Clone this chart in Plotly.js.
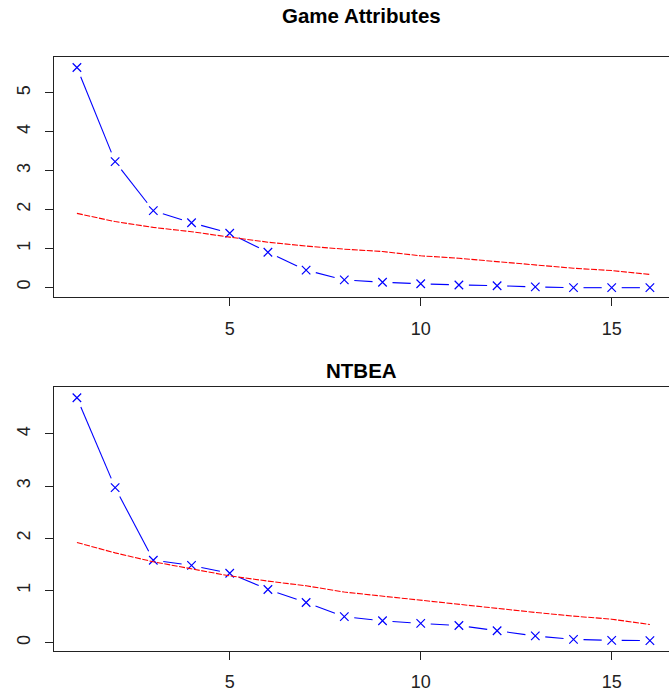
<!DOCTYPE html>
<html>
<head>
<meta charset="utf-8">
<script src="https://cdn.plot.ly/plotly-3.0.1.min.js"></script>
<style>html,body{margin:0;padding:0;background:#fff;}#chart{width:669px;height:693px;}</style>
</head>
<body>
<div id="chart"></div>
<script>
// Factor numbers
var factors = [1,2,3,4,5,6,7,8,9,10,11,12,13,14,15,16];
// Game Attributes: actual eigenvalues (blue) and simulated/random (red)
var gameActual = [5.65,3.23,1.97,1.66,1.39,0.90,0.44,0.19,0.13,0.09,0.06,0.04,0.01,-0.01,-0.01,-0.01];
var gameSim    = [1.90,1.69,1.54,1.43,1.29,1.16,1.06,0.98,0.92,0.81,0.745,0.66,0.56,0.49,0.43,0.33];
// NTBEA
var ntbeaActual = [4.69,2.97,1.58,1.48,1.33,1.02,0.77,0.50,0.42,0.37,0.33,0.23,0.13,0.065,0.046,0.04];
var ntbeaSim    = [1.92,1.72,1.55,1.42,1.28,1.18,1.09,0.97,0.89,0.82,0.74,0.66,0.58,0.51,0.45,0.35];
// Titles and ticks
var titles = ["Game Attributes", "NTBEA"];
var xTicks = [5,10,15];
var yTicksTop = [0,1,2,3,4,5];
var yTicksBottom = [0,1,2,3,4];

var FONT = "Liberation Sans, Arial, sans-serif";
var GAP = 10; // pixel gap around each point (R type="b")

var W = 669, H = 693, ML = 54;
var XRANGE = [0.4, 16.5];
var DOM_TOP = [0.5714, 0.9177], DOM_BOT = [0.0610, 0.4411];
var YR_TOP = [-0.25, 5.92], YR_BOT = [-0.153, 4.89];

// Build R-style "type = b" line: segments between points, shortened by GAP pixels at each end.
function gappedLine(xs, ys, dom, yr) {
  var sx = (W - ML) / (XRANGE[1] - XRANGE[0]);
  var sy = (dom[1] - dom[0]) * H / (yr[1] - yr[0]);
  var gx = [], gy = [];
  for (var i = 0; i < xs.length - 1; i++) {
    var dx = (xs[i+1] - xs[i]) * sx, dy = (ys[i+1] - ys[i]) * sy;
    var len = Math.sqrt(dx*dx + dy*dy);
    if (len > 2 * GAP) {
      var ox = dx / len * GAP / sx, oy = dy / len * GAP / sy;
      gx.push(xs[i] + ox, xs[i+1] - ox, null);
      gy.push(ys[i] + oy, ys[i+1] - oy, null);
    }
  }
  return {x: gx, y: gy};
}

function seriesTraces(actual, sim, xa, ya, dom, yr) {
  var g = gappedLine(factors, actual, dom, yr);
  return [
    {x: g.x, y: g.y, xaxis: xa, yaxis: ya, type: 'scatter', mode: 'lines',
     line: {color: '#0000FF', width: 1.1, simplify: false}, hoverinfo: 'skip', showlegend: false, connectgaps: false},
    {x: factors, y: actual, xaxis: xa, yaxis: ya, type: 'scatter', mode: 'markers',
     marker: {symbol: 'x-thin', size: 8.5, color: '#0000FF', line: {color: '#0000FF', width: 1.2}},
     showlegend: false},
    {x: factors, y: sim, xaxis: xa, yaxis: ya, type: 'scatter', mode: 'lines',
     line: {color: '#FF0000', width: 1.1, dash: '6px,1.5px'}, showlegend: false}
  ];
}

var data = seriesTraces(gameActual, gameSim, 'x', 'y', DOM_TOP, YR_TOP)
  .concat(seriesTraces(ntbeaActual, ntbeaSim, 'x2', 'y2', DOM_BOT, YR_BOT));

function xAxis(anchor) {
  return {
    anchor: anchor, domain: [0, 1], range: XRANGE,
    tickvals: xTicks, ticktext: xTicks.map(String),
    ticks: 'outside', ticklen: 8, tickwidth: 1, tickcolor: '#222',
    showline: true, linecolor: '#222', linewidth: 1, mirror: true,
    showgrid: false, zeroline: false, ticklabelstandoff: 7,
    tickfont: {family: FONT, size: 18, color: '#222'}
  };
}
function yAxis(anchor, domain, range, ticks) {
  return {
    anchor: anchor, domain: domain, range: range,
    tickvals: ticks, ticktext: ticks.map(String), tickangle: -90,
    ticks: 'outside', ticklen: 8, tickwidth: 1, tickcolor: '#222',
    showline: true, linecolor: '#222', linewidth: 1, mirror: false,
    showgrid: false, zeroline: false, ticklabelstandoff: 8,
    tickfont: {family: FONT, size: 18, color: '#222'}
  };
}

var layout = {
  width: W, height: H,
  margin: {l: ML, r: 0, t: 0, b: 0, pad: 0},
  paper_bgcolor: '#fff', plot_bgcolor: '#fff',
  showlegend: false,
  xaxis: xAxis('y'),
  yaxis: yAxis('x', DOM_TOP, YR_TOP, yTicksTop),
  xaxis2: xAxis('y2'),
  yaxis2: yAxis('x2', DOM_BOT, YR_BOT, yTicksBottom),
  annotations: [
    {text: '<b>' + titles[0] + '</b>', xref: 'paper', yref: 'paper', x: 0.5, y: 1 - 15.5/693,
     xanchor: 'center', yanchor: 'middle', showarrow: false,
     font: {family: FONT, size: 20.5, color: '#000'}},
    {text: '<b>' + titles[1] + '</b>', xref: 'paper', yref: 'paper', x: 0.5, y: 1 - 370/693,
     xanchor: 'center', yanchor: 'middle', showarrow: false,
     font: {family: FONT, size: 20.5, color: '#000'}}
  ]
};

Plotly.newPlot('chart', data, layout, {displayModeBar: false, staticPlot: true});
</script>
</body>
</html>
